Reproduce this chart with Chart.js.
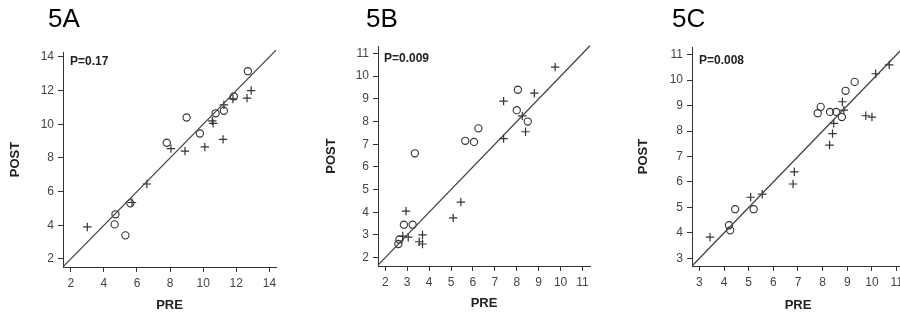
<!DOCTYPE html>
<html>
<head>
<meta charset="utf-8">
<script src="https://cdn.jsdelivr.net/npm/chart.js@4.4.1/dist/chart.umd.min.js"></script>
<style>
  html, body { margin: 0; padding: 0; background: #fff; overflow: hidden; }
  body { width: 900px; height: 320px; position: relative; }
  canvas { position: absolute; top: 0; }
</style>
</head>
<body>
<canvas id="cA" width="300" height="320" style="left:0px"></canvas>
<canvas id="cB" width="300" height="320" style="left:300px"></canvas>
<canvas id="cC" width="320" height="320" style="left:600px"></canvas>
<script>
// 5A
const aCirclePre  = [12.7, 11.85, 11.25, 10.75, 9.0, 9.8, 7.8, 5.6, 4.7, 4.65, 5.3];
const aCirclePost = [13.15, 11.65, 10.8, 10.65, 10.4, 9.45, 8.9, 5.3, 4.65, 4.05, 3.4];
const aPlusPre    = [3.0, 5.7, 6.6, 8.05, 8.9, 10.1, 11.2, 10.55, 10.6, 11.25, 11.8, 12.65, 12.9];
const aPlusPost   = [3.9, 5.35, 6.45, 8.55, 8.4, 8.65, 9.1, 10.2, 10.05, 11.15, 11.5, 11.55, 12.0];
const aTicks = [2, 4, 6, 8, 10, 12, 14];

// 5B
const bCirclePre  = [8.05, 8.0, 8.5, 6.25, 5.65, 6.05, 3.35, 2.85, 3.25, 2.65, 2.6];
const bCirclePost = [9.4, 8.5, 8.0, 7.7, 7.15, 7.1, 6.6, 3.45, 3.45, 2.8, 2.6];
const bPlusPre    = [9.75, 8.8, 7.4, 8.25, 8.4, 7.4, 5.45, 5.1, 2.95, 3.05, 2.8, 3.7, 3.55, 3.7];
const bPlusPost   = [10.4, 9.25, 8.9, 8.25, 7.55, 7.25, 4.45, 3.75, 4.05, 2.9, 2.95, 3.0, 2.7, 2.6];
const bTicks = [2, 3, 4, 5, 6, 7, 8, 9, 10, 11];

// 5C
const cCirclePre  = [9.3, 8.93, 7.92, 7.8, 8.3, 8.55, 8.78, 4.45, 5.2, 4.2, 4.25];
const cCirclePost = [9.93, 9.58, 8.95, 8.7, 8.75, 8.75, 8.55, 4.93, 4.93, 4.3, 4.1];
const cPlusPre    = [10.7, 10.15, 8.8, 8.86, 9.75, 10.0, 8.45, 8.4, 8.28, 6.85, 6.8, 5.55, 5.08, 3.43];
const cPlusPost   = [10.6, 10.25, 9.15, 8.82, 8.6, 8.55, 8.3, 7.9, 7.45, 6.4, 5.92, 5.52, 5.4, 3.83];
const cTicks = [3, 4, 5, 6, 7, 8, 9, 10, 11];

const FONT = '"Liberation Sans", Arial, sans-serif';
const INK = '#333';

function pts(xs, ys) {
  return xs.map((x, i) => ({ x: x, y: ys[i] }));
}

const panelText = {
  id: 'panelText',
  afterDraw(chart, args, o) {
    const ctx = chart.ctx, area = chart.chartArea;
    ctx.save();
    ctx.fillStyle = '#000';
    ctx.textAlign = 'left';
    ctx.textBaseline = 'alphabetic';
    ctx.font = '26px ' + FONT;
    ctx.fillText(o.name, o.nameX, 27);
    ctx.fillStyle = '#222';
    ctx.font = 'bold 12px ' + FONT;
    ctx.textBaseline = 'middle';
    ctx.fillText(o.p, area.left + o.pDx, area.top + o.pDy);
    ctx.restore();
  }
};

function axis(ticks, min, max, title, titlePad, fitSize, isY) {
  return {
    type: 'linear',
    min: min,
    max: max,
    afterBuildTicks: s => { s.ticks = ticks.map(v => ({ value: v })); },
    afterFit: s => { if (isY) s.width = fitSize; else s.height = fitSize; },
    grid: { display: true, drawOnChartArea: false, tickLength: 5, tickColor: INK, color: INK },
    border: { display: true, color: INK, width: 1 },
    ticks: { color: '#444', font: { family: FONT, size: 12 }, padding: isY ? 4 : 4, maxRotation: 0 },
    title: {
      display: true, text: title, color: '#222',
      font: { family: FONT, size: 13, weight: 'bold' },
      padding: isY ? { top: titlePad, bottom: 0 } : { top: 0, bottom: titlePad }
    }
  };
}

function makePanel(id, p) {
  new Chart(document.getElementById(id), {
    type: 'scatter',
    data: {
      datasets: [
        {
          type: 'line',
          data: [{ x: p.lineFrom, y: p.lineFrom }, { x: p.lineTo, y: p.lineTo }],
          borderColor: '#444', borderWidth: 1.3, pointRadius: 0, clip: false
        },
        {
          data: pts(p.circlePre, p.circlePost),
          pointStyle: 'circle', pointRadius: 3.6, borderWidth: 1.1,
          borderColor: INK, backgroundColor: 'rgba(0,0,0,0)'
        },
        {
          data: pts(p.plusPre, p.plusPost),
          pointStyle: 'cross', pointRadius: 4.2, borderWidth: 1.2,
          borderColor: INK, backgroundColor: INK
        }
      ]
    },
    options: {
      responsive: false,
      animation: false,
      devicePixelRatio: 1,
      layout: { padding: { left: 0, top: p.top, right: p.right, bottom: 0 } },
      plugins: {
        legend: { display: false },
        tooltip: { enabled: false },
        panelText: { name: p.name, nameX: p.nameX, p: p.pText, pDx: p.pDx, pDy: p.pDy }
      },
      scales: {
        x: axis(p.ticks, p.xMin, p.xMax, 'PRE', p.xTitlePad, p.xHeight, false),
        y: axis(p.ticks, p.yMin, p.yMax, 'POST', p.yTitlePad, p.yWidth, true)
      }
    },
    plugins: [panelText]
  });
}

makePanel('cA', {
  name: '5A', nameX: 48, pText: 'P=0.17', pDx: 7, pDy: 10,
  circlePre: aCirclePre, circlePost: aCirclePost, plusPre: aPlusPre, plusPost: aPlusPost,
  ticks: aTicks, xMin: 1.53, xMax: 14.4, yMin: 1.52, yMax: 14.29,
  lineFrom: 1.53, lineTo: 14.4,
  top: 52, right: 24, yWidth: 63, xHeight: 53, yTitlePad: 8, xTitlePad: 7
});

makePanel('cB', {
  name: '5B', nameX: 66, pText: 'P=0.009', pDx: 6, pDy: 13,
  circlePre: bCirclePre, circlePost: bCirclePost, plusPre: bPlusPre, plusPost: bPlusPost,
  ticks: bTicks, xMin: 1.67, xMax: 11.34, yMin: 1.63, yMax: 11.33,
  lineFrom: 1.67, lineTo: 11.34,
  top: 46, right: 10, yWidth: 78, xHeight: 54, yTitlePad: 24, xTitlePad: 9
});

makePanel('cC', {
  name: '5C', nameX: 72, pText: 'P=0.008', pDx: 7, pDy: 14,
  circlePre: cCirclePre, circlePost: cCirclePost, plusPre: cPlusPre, plusPost: cPlusPost,
  ticks: cTicks, xMin: 2.7, xMax: 11.3, yMin: 2.7, yMax: 11.3,
  lineFrom: 2.7, lineTo: 11.3,
  top: 47, right: 16, yWidth: 92, xHeight: 54, yTitlePad: 36, xTitlePad: 7
});
</script>
</body>
</html>
